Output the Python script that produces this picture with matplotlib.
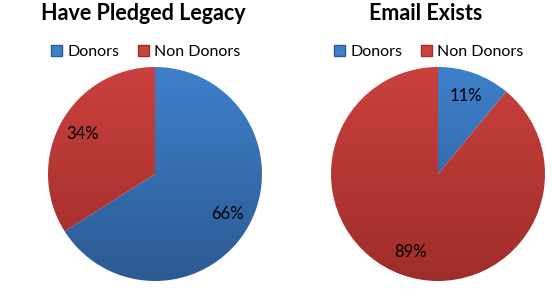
import numpy as np
import matplotlib.pyplot as plt
from matplotlib.patches import Patch
from matplotlib.colors import LinearSegmentedColormap

titles = ["Have Pledged Legacy", "Email Exists"]
labels = ["Donors", "Non Donors"]
pledged = [66, 34]
email = [11, 89]

blue_top, blue_bot = "#3E80CB", "#2C5A93"
red_top, red_bot = "#CA413E", "#9F2D2A"

plt.rcParams['font.family'] = ['Lato', 'DejaVu Sans']

fig = plt.figure(figsize=(5.52, 2.89), dpi=100)
W, H = 552, 289
centers = [(155, 174), (438, 174)]
legend_x = [146, 429]
title_x = [143, 426]
R = 107


def shade(ax, wedge, top, bot):
    cmap = LinearSegmentedColormap.from_list("g", [top, bot])
    grad = np.linspace(0, 1, 256).reshape(-1, 1)
    im = ax.imshow(grad, cmap=cmap, extent=(-1, 1, -1, 1), origin="upper",
                   aspect="auto", zorder=1)
    im.set_clip_path(wedge)
    wedge.set_facecolor("none")


for (cx, cy), lx, tx, title, vals in zip(centers, legend_x, title_x, titles, [pledged, email]):
    ax = fig.add_axes([(cx - R) / W, (H - cy - R) / H, 2 * R / W, 2 * R / H])
    wedges, texts, autotexts = ax.pie(vals, colors=[blue_top, red_top], startangle=90,
                                      counterclock=False, autopct="%d%%", pctdistance=0.77,
                                      wedgeprops=dict(linewidth=0),
                                      textprops=dict(fontsize=12, color="black"))
    shade(ax, wedges[0], blue_top, blue_bot)
    shade(ax, wedges[1], red_top, red_bot)
    for t in autotexts:
        t.set_zorder(5)
    ax.set_xlim(-1, 1)
    ax.set_ylim(-1, 1)
    ax.axis("off")

    fig.text(tx / W, 1 - 14 / H, title,
             ha="center", va="center", fontsize=15.5, fontweight="bold")
    handles = [Patch(facecolor=blue_top, edgecolor=blue_bot),
               Patch(facecolor=red_top, edgecolor=red_bot)]
    fig.legend(handles, labels, loc="center", bbox_to_anchor=(lx / W, 1 - 52 / H),
               ncol=2, frameon=False, fontsize=11.5, handlelength=0.65, handleheight=0.65,
               handletextpad=0.35, columnspacing=1.2, borderpad=0)

fig.savefig("out.png", dpi=100)
